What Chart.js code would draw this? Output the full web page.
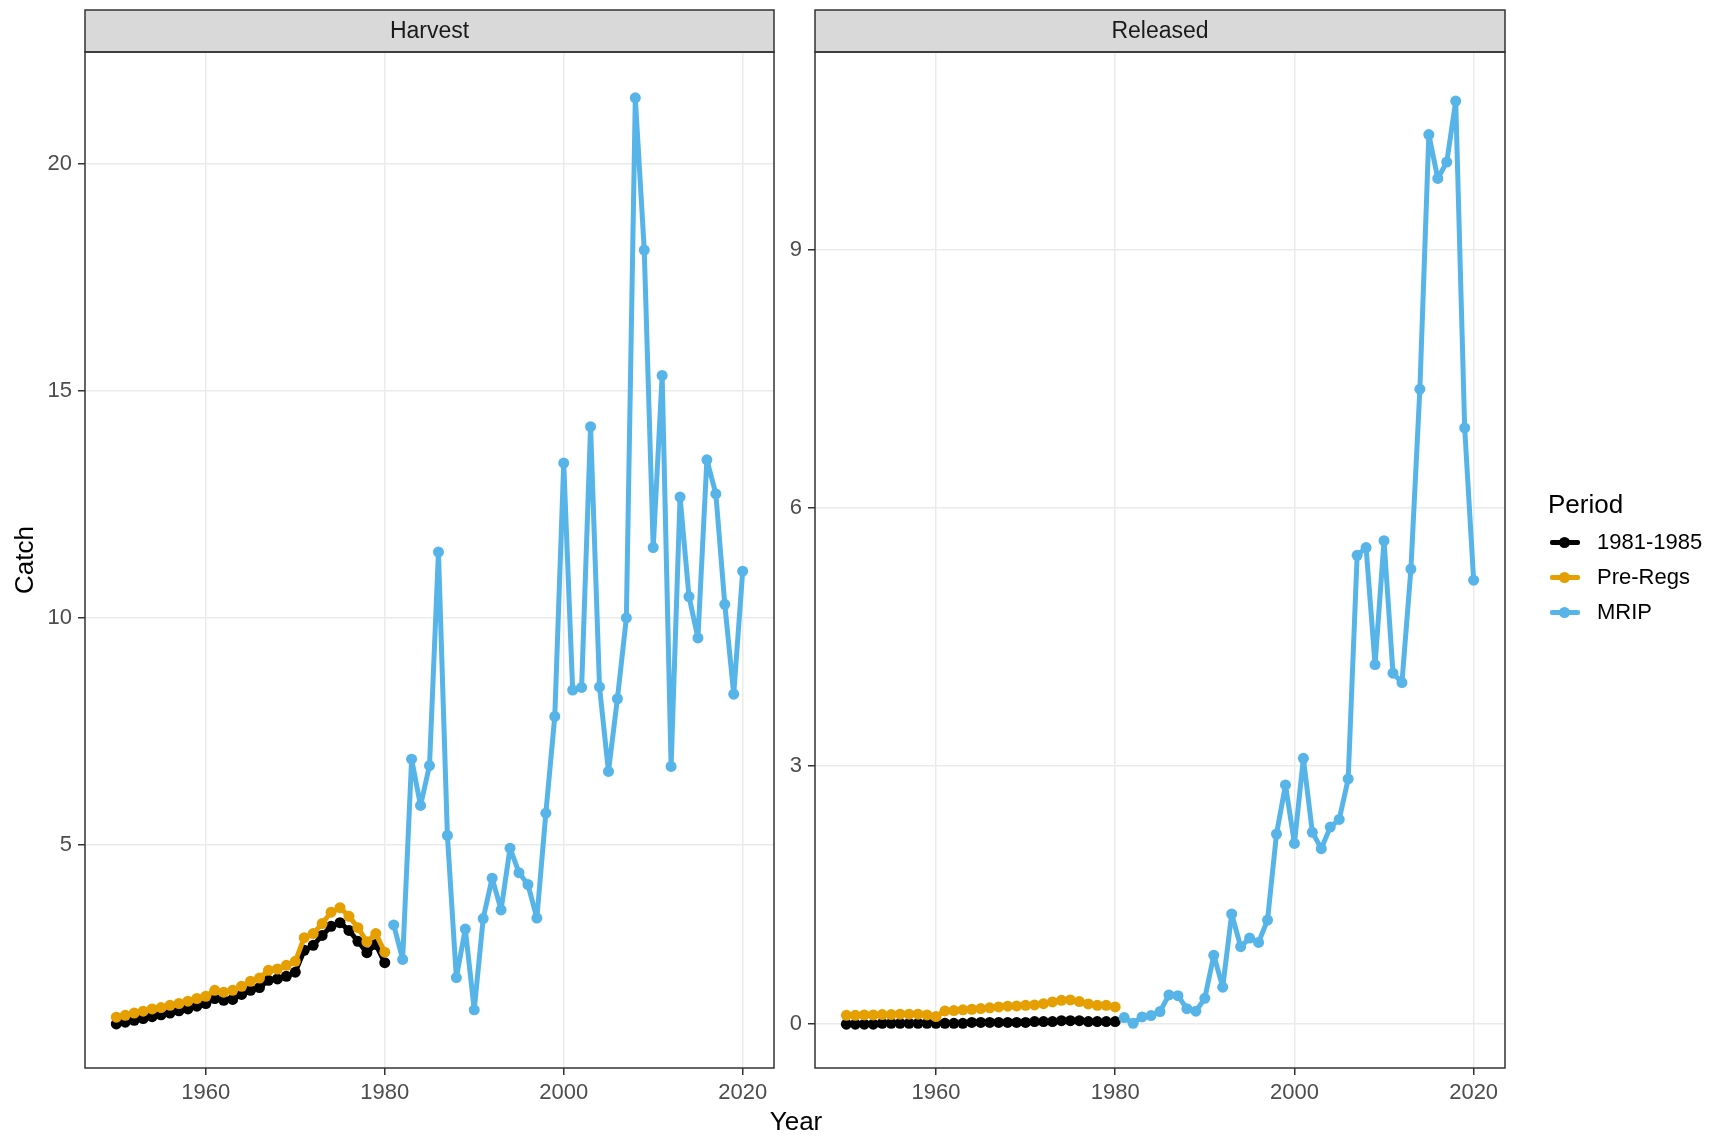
<!DOCTYPE html>
<html>
<head>
<meta charset="utf-8">
<script src="https://cdn.jsdelivr.net/npm/chart.js@4.4.1/dist/chart.umd.min.js"></script>
<style>
html,body{margin:0;padding:0;background:#ffffff;width:1715px;height:1136px;overflow:hidden;font-family:"Liberation Sans",Arial,sans-serif;}
#c1{position:absolute;left:0;top:0;}
#c2{position:absolute;left:780px;top:0;}
#xtitle{position:absolute;left:796px;top:1106px;transform:translateX(-50%);font-size:26px;line-height:30px;color:#000;white-space:nowrap;}
#legend{position:absolute;left:1548px;top:489px;}
#legend .ttl{font-size:26px;line-height:30px;color:#000;margin-bottom:6px;}
#legend .item{position:relative;height:35px;}
#legend .key{position:absolute;left:2px;top:15px;width:30px;height:5px;border-radius:2px;}
#legend .dot{position:absolute;left:11px;top:12px;width:11px;height:11px;border-radius:50%;}
#legend .lbl{position:absolute;left:49px;top:4px;font-size:22px;line-height:26px;color:#000;white-space:nowrap;}
</style>
</head>
<body>
<canvas id="c1" width="780" height="1136"></canvas>
<canvas id="c2" width="935" height="1136"></canvas>
<div id="xtitle">Year</div>
<div id="legend"></div>
<script>
// ---------- data ----------
const preYears = [1950,1951,1952,1953,1954,1955,1956,1957,1958,1959,1960,1961,1962,1963,1964,1965,1966,1967,1968,1969,1970,1971,1972,1973,1974,1975,1976,1977,1978,1979,1980];
const mripYears = [1981,1982,1983,1984,1985,1986,1987,1988,1989,1990,1991,1992,1993,1994,1995,1996,1997,1998,1999,2000,2001,2002,2003,2004,2005,2006,2007,2008,2009,2010,2011,2012,2013,2014,2015,2016,2017,2018,2019,2020];

const harvest8185 = [1.06,1.10,1.14,1.18,1.22,1.26,1.30,1.35,1.39,1.45,1.51,1.62,1.58,1.60,1.71,1.80,1.86,2.02,2.05,2.11,2.20,2.68,2.79,3.01,3.21,3.29,3.12,2.88,2.63,2.81,2.41];
const harvestPreRegs = [1.21,1.25,1.30,1.34,1.39,1.42,1.47,1.51,1.56,1.62,1.67,1.80,1.76,1.80,1.89,2.00,2.07,2.24,2.27,2.35,2.44,2.96,3.05,3.27,3.52,3.62,3.43,3.18,2.87,3.05,2.64];
const harvestMRIP = [3.24,2.48,6.89,5.87,6.75,11.45,5.21,2.08,3.15,1.37,3.38,4.27,3.57,4.93,4.39,4.13,3.39,5.70,7.83,13.41,8.41,8.47,14.21,8.48,6.62,8.22,10.00,21.45,18.10,11.55,15.34,6.73,12.66,10.47,9.56,13.48,12.73,10.30,8.32,11.03];

const released8185 = [0.00,0.00,0.00,0.00,0.01,0.01,0.01,0.01,0.01,0.01,0.01,0.01,0.01,0.01,0.02,0.02,0.02,0.02,0.02,0.02,0.02,0.03,0.03,0.03,0.04,0.04,0.04,0.03,0.03,0.03,0.03];
const releasedPreRegs = [0.103,0.103,0.107,0.107,0.111,0.111,0.115,0.115,0.115,0.107,0.088,0.154,0.158,0.166,0.173,0.181,0.189,0.200,0.208,0.212,0.219,0.223,0.238,0.258,0.277,0.281,0.262,0.235,0.219,0.219,0.200];
const releasedMRIP = [0.076,0.010,0.084,0.10,0.146,0.34,0.33,0.18,0.15,0.30,0.80,0.43,1.28,0.90,1.00,0.95,1.21,2.21,2.78,2.10,3.09,2.23,2.04,2.29,2.38,2.85,5.45,5.54,4.18,5.62,4.08,3.97,5.29,7.38,10.34,9.83,10.02,10.73,6.93,5.16];

const panelTitles = ['Harvest','Released'];
const seriesNames = ['1981-1985','Pre-Regs','MRIP'];
const seriesColors = ['#000000','#E69F00','#56B4E9'];
const xTicks = [1960,1980,2000,2020];
const harvestTicks = [5,10,15,20];
const releasedTicks = [0,3,6,9];
const legendTitle = 'Period';
const yTitle = 'Catch';

// ---------- helpers ----------
const FONT = '"Liberation Sans", Arial, sans-serif';
function pts(xs, ys){ return xs.map((x,i)=>({x:x, y:ys[i]})); }

const panelDecor = {
  id:'panelDecor',
  afterDraw(chart, args, opts){
    const {ctx, chartArea:{left,right,top,bottom}} = chart;
    ctx.save();
    ctx.fillStyle = '#d9d9d9';
    ctx.fillRect(left, 10, right-left, top-10);
    ctx.strokeStyle = '#333333';
    ctx.lineWidth = 1.5;
    ctx.strokeRect(left, 10, right-left, top-10);
    ctx.fillStyle = '#1a1a1a';
    ctx.font = '23px ' + FONT;
    ctx.textAlign = 'center';
    ctx.textBaseline = 'middle';
    ctx.fillText(opts.title, (left+right)/2, (10+top)/2 + 1);
    ctx.strokeRect(left, top, right-left, bottom-top);
    ctx.restore();
  }
};

function makePanel(id, title, d8185, dPre, dMrip, yMin, yMax, yTicks, yWidth, padRight, showYTitle){
  const mk = (label, xs, ys, color, order) => ({
    label, data: pts(xs, ys), borderColor: color, backgroundColor: color,
    pointBackgroundColor: color, pointBorderWidth: 0, pointRadius: 5.5,
    borderWidth: 5, borderJoinStyle: 'round', borderCapStyle: 'round', tension: 0, order
  });
  return new Chart(document.getElementById(id), {
    type:'line',
    data:{ datasets:[
      mk(seriesNames[0], preYears, d8185, seriesColors[0], 2),
      mk(seriesNames[1], preYears, dPre, seriesColors[1], 1),
      mk(seriesNames[2], mripYears, dMrip, seriesColors[2], 0)
    ]},
    options:{
      responsive:false, animation:false, devicePixelRatio:1,
      layout:{padding:{top:52, right:padRight, bottom:0, left:0}},
      plugins:{ legend:{display:false}, tooltip:{enabled:false}, panelDecor:{title} },
      scales:{
        x:{
          type:'linear', min:1946.5, max:2023.5,
          afterBuildTicks: s => { s.ticks = xTicks.map(v=>({value:v})); },
          afterFit: s => { s.height = 68; },
          grid:{color:'#ebebeb', lineWidth:1.5, tickColor:'#333333', tickLength:7, tickWidth:1.5},
          border:{display:false},
          ticks:{color:'#4d4d4d', font:{size:22, family:FONT}, padding:5, maxRotation:0, autoSkip:false,
                 callback: v => String(v)}
        },
        y:{
          type:'linear', min:yMin, max:yMax,
          afterBuildTicks: s => { s.ticks = yTicks.map(v=>({value:v})); },
          afterFit: s => { s.width = yWidth; },
          grid:{color:'#ebebeb', lineWidth:1.5, tickColor:'#333333', tickLength:7, tickWidth:1.5},
          border:{display:false},
          ticks:{color:'#4d4d4d', font:{size:22, family:FONT}, padding:6, autoSkip:false,
                 callback: v => String(v)},
          title:{display:showYTitle, text:yTitle, color:'#000', font:{size:26, family:FONT}, padding:{top:10,bottom:0}}
        }
      }
    },
    plugins:[panelDecor]
  });
}

makePanel('c1', panelTitles[0], harvest8185, harvestPreRegs, harvestMRIP, 0.09, 22.46, harvestTicks, 85, 6, true);
makePanel('c2', panelTitles[1], released8185, releasedPreRegs, releasedMRIP, -0.51, 11.30, releasedTicks, 35, 210, false);

// ---------- legend ----------
const lg = document.getElementById('legend');
let html = '<div class="ttl">' + legendTitle + '</div>';
seriesNames.forEach((n,i)=>{
  html += '<div class="item"><div class="key" style="background:'+seriesColors[i]+'"></div>'+
          '<div class="dot" style="background:'+seriesColors[i]+'"></div>'+
          '<div class="lbl">'+n+'</div></div>';
});
lg.innerHTML = html;
</script>
</body>
</html>
